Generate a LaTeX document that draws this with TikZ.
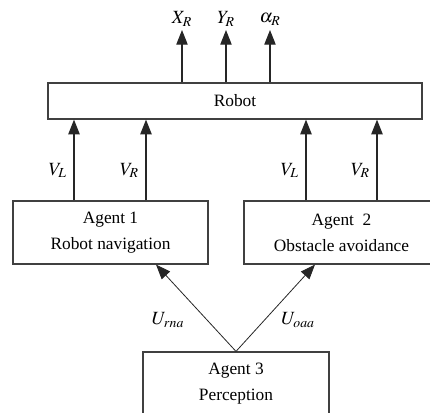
\documentclass[tikz,border=0pt]{standalone}
\usepackage{mathptmx}
\usepackage{fontspec}
\setmainfont{Liberation Serif}
\usetikzlibrary{arrows.meta}

\begin{document}
\begin{tikzpicture}[x=0.75pt,y=-0.75pt,>={Triangle[length=11pt,width=8.5pt]},
    font=\fontsize{13}{19.5}\selectfont]
  \tikzstyle{block}=[draw=black!75,line width=0.9pt,align=center,inner sep=0pt]
  \tikzstyle{sig}=[->,line width=0.8pt,draw=black!85]
  \tikzstyle{lbl}=[font=\fontsize{14}{16}\selectfont,inner sep=1pt]
  \clip (0,0) rectangle (430,413);
  % boxes
  \node[block,minimum width=280.5pt,minimum height=27pt]   (robot) at (235,101)   {Robot};
  \node[block,minimum width=146.25pt,minimum height=47.25pt] (A1) at (110.5,232.5) {Agent 1\\Robot navigation};
  \node[block,minimum width=146.25pt,minimum height=47.25pt] (A2) at (341.5,232.5) {Agent~ 2\\Obstacle avoidance};
  \node[block,minimum width=139.5pt,minimum height=47.25pt]  (A3) at (236,383.5)   {Agent 3\\Perception};
  % robot outputs
  \foreach \xx/\lab [count=\i] in {182/X_R,226/Y_R,270/\alpha_R} {
    \coordinate (out\i) at (\xx,30);
    \draw[sig] (robot.north -| out\i) -- (out\i);
    \node[lbl] (lout\i) at (\xx,19) {$\lab$};
  }
  % wheel speeds
  \coordinate (w1) at (74,0);
  \coordinate (w2) at (146,0);
  \coordinate (w3) at (306,0);
  \coordinate (w4) at (377,0);
  \draw[sig] (A1.north -| w1) -- (robot.south -| w1) node[lbl,pos=.37,left=4pt] (vl1) {$V_L$};
  \draw[sig] (A1.north -| w2) -- (robot.south -| w2) node[lbl,pos=.37,left=4pt] (vr1) {$V_R$};
  \draw[sig] (A2.north -| w3) -- (robot.south -| w3) node[lbl,pos=.37,left=4pt] (vl2) {$V_L$};
  \draw[sig] (A2.north -| w4) -- (robot.south -| w4) node[lbl,pos=.37,left=4pt] (vr2) {$V_R$};
  % perception
  \coordinate (u1) at (156,0);
  \coordinate (u2) at (315,0);
  \draw[sig,line width=0.6pt] (A3.north) -- (A1.south -| u1);
  \draw[sig,line width=0.6pt] (A3.north) -- (A2.south -| u2);
  \node[lbl] (urna) at (168,320) {$U_{rna}$};
  \node[lbl] (uoaa) at (298,320) {$U_{oaa}$};
\end{tikzpicture}
\end{document}
